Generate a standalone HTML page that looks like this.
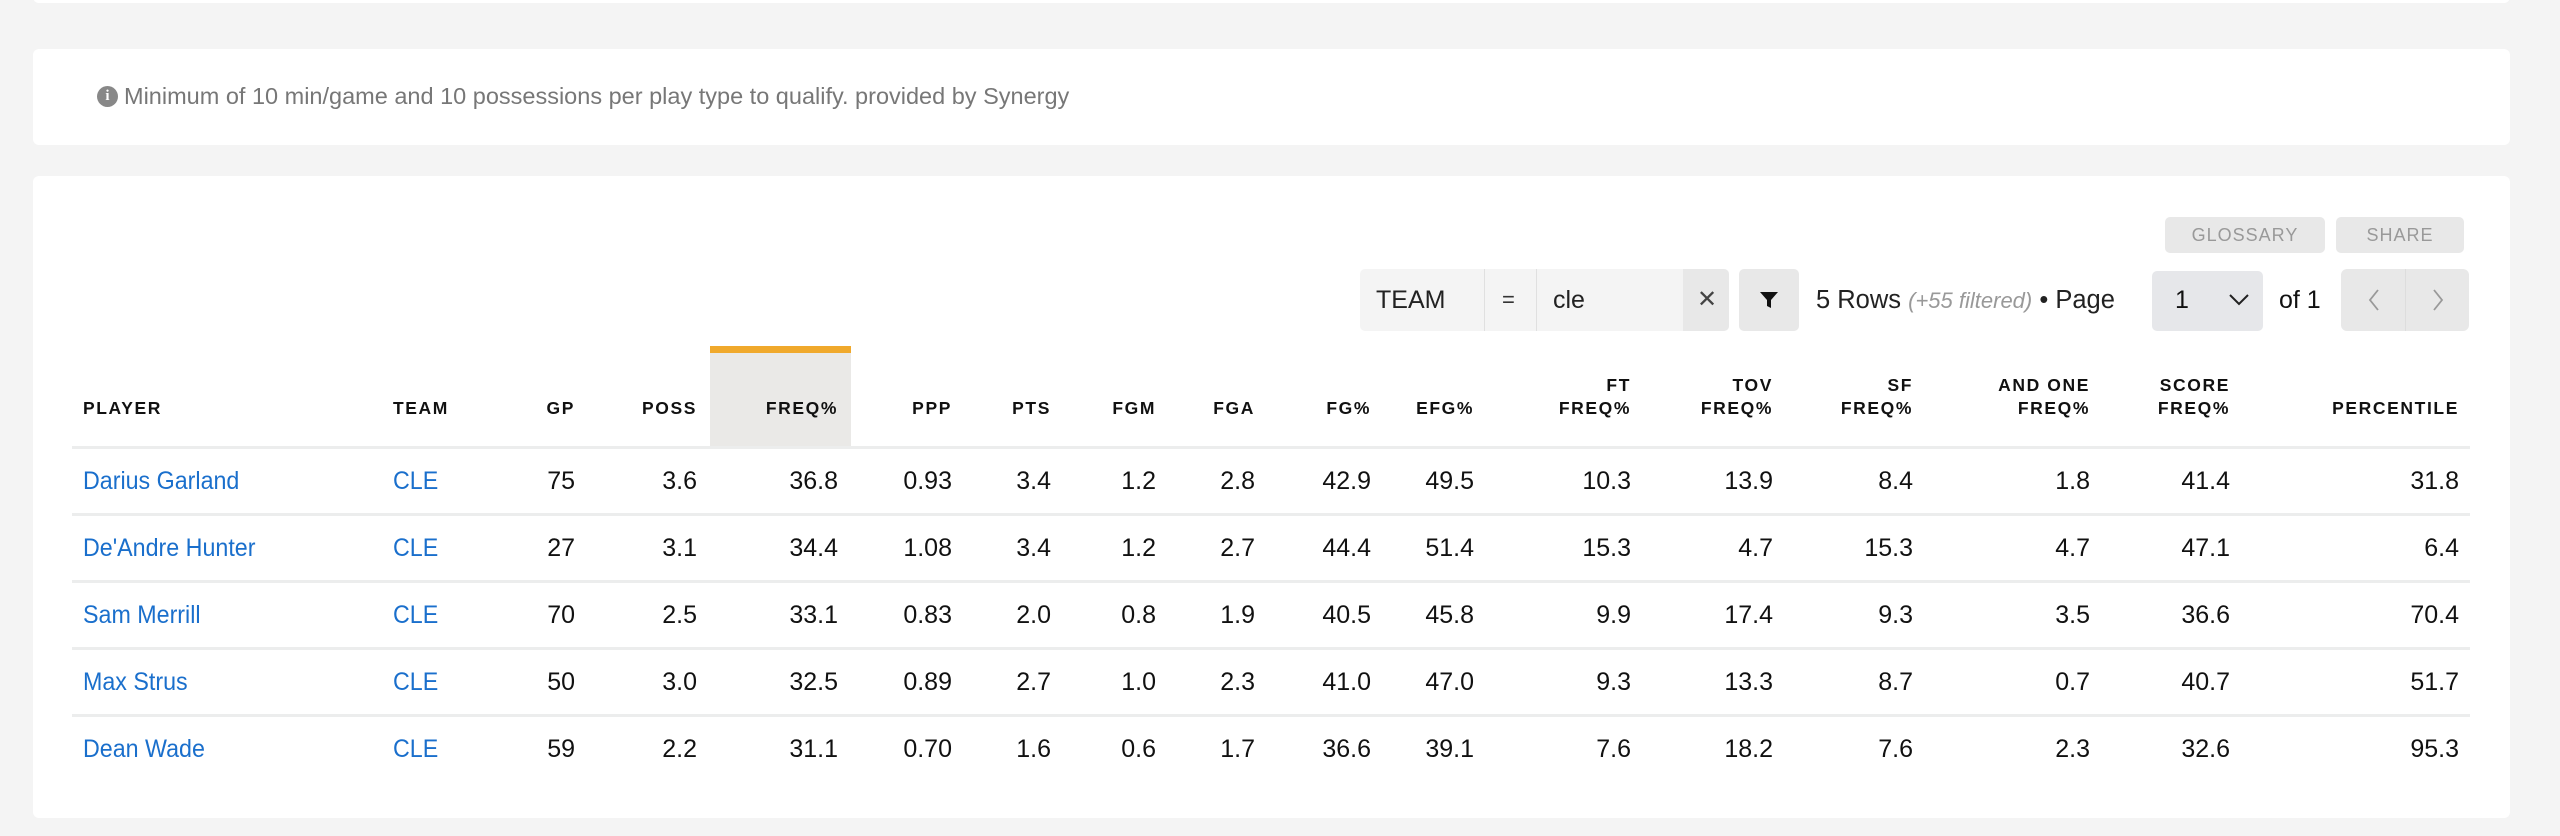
<!DOCTYPE html>
<html><head><meta charset="utf-8">
<style>
*{margin:0;padding:0;box-sizing:border-box}
body{width:2560px;height:836px;background:#f4f4f4;position:relative;overflow:hidden;font-family:"Liberation Sans",sans-serif;color:#111}
.card{position:absolute;background:#fff;border-radius:6px}
.info{position:absolute;left:97px;top:83px;font-size:23.5px;color:#777;display:flex;align-items:center}
.info i{display:inline-block;width:21px;height:21px;border-radius:50%;background:#888;color:#fff;font-style:normal;font-weight:bold;font-size:15px;text-align:center;line-height:21px;margin-right:6px;font-family:"Liberation Serif",serif}
.btn{position:absolute;background:#e8e8e8;border-radius:5px;color:#999;font-size:18px;letter-spacing:1px;text-align:center;line-height:36px;top:217px;height:36px}
.th{position:absolute;font-weight:bold;font-size:17.5px;letter-spacing:1.6px;text-align:right;line-height:23px;color:#111}
.td{position:absolute;font-size:25px;text-align:right;white-space:nowrap;color:#111}
.nm{transform:scaleX(.93);transform-origin:left center}
.hl{position:absolute;left:710px;top:346px;width:141px;height:101px;background:#eae9e7;border-top:7px solid #f0a92c}
.line{position:absolute;left:72px;width:2398px;height:3px;background:#eceded}
a{color:#1a6fcc;text-decoration:none}
</style></head><body>
<div class="card" style="left:33px;top:-10px;width:2477px;height:13px"></div>
<div class="card" style="left:33px;top:49px;width:2477px;height:96px"></div>
<div class="info"><i>i</i>Minimum of 10 min/game and 10 possessions per play type to qualify. provided by Synergy</div>
<div class="card" style="left:33px;top:176px;width:2477px;height:642px"></div>
<div class="btn" style="left:2165px;width:160px">GLOSSARY</div>
<div class="btn" style="left:2336px;width:128px">SHARE</div>
<div style="position:absolute;left:1360px;top:269px;width:369px;height:62px;background:#f4f4f4;border-radius:5px"></div>
<div style="position:absolute;left:1683px;top:269px;width:46px;height:62px;background:#e8e8e8;border-radius:0 5px 5px 0"></div>
<div style="position:absolute;left:1484px;top:269px;width:1px;height:62px;background:#e0e0e0"></div>
<div style="position:absolute;left:1536px;top:269px;width:1px;height:62px;background:#e0e0e0"></div>
<div style="position:absolute;left:1376px;top:269px;line-height:62px;font-size:25px;color:#222">TEAM</div>
<div style="position:absolute;left:1502px;top:269px;line-height:62px;font-size:22px;color:#333">=</div>
<div style="position:absolute;left:1553px;top:269px;line-height:62px;font-size:25px;color:#222">cle</div>
<div style="position:absolute;left:1697px;top:269px;line-height:62px;font-size:24px;color:#444">✕</div>
<div style="position:absolute;left:1739px;top:269px;width:60px;height:62px;background:#e8e8e8;border-radius:5px"></div>
<svg style="position:absolute;left:1759px;top:290px" width="20" height="20"><path d="M1 2h18l-7 8v8l-4-2v-6z" fill="#111"/></svg>
<div style="position:absolute;left:1816px;top:269px;line-height:62px;font-size:25.5px;color:#222">5 Rows <span style="color:#999;font-style:italic;font-size:22px">(+55 filtered)</span> • Page</div>
<div style="position:absolute;left:2152px;top:271px;width:111px;height:60px;background:#e6e7ea;border-radius:5px"></div>
<div style="position:absolute;left:2175px;top:269px;line-height:62px;font-size:25px">1</div>
<svg style="position:absolute;left:2228px;top:293px" width="22" height="14"><path d="M2 2l9 9 9-9" stroke="#222" stroke-width="2" fill="none"/></svg>
<div style="position:absolute;left:2279px;top:269px;line-height:62px;font-size:25px">of 1</div>
<div style="position:absolute;left:2341px;top:269px;width:128px;height:62px;background:#e8e8e8;border-radius:6px"></div>
<div style="position:absolute;left:2405px;top:269px;width:1px;height:62px;background:#ddd"></div>
<svg style="position:absolute;left:2366px;top:288px" width="80" height="24"><path d="M12 2L4 12l8 10M68 2l8 10-8 10" stroke="#999" stroke-width="1.8" fill="none"/></svg>

<div class="hl"></div>
<div class="th" style="left:83px;top:397px;text-align:left">PLAYER</div>
<div class="th" style="left:393px;top:397px;text-align:left">TEAM</div>
<div class="th" style="right:1985px;top:397px">GP</div>
<div class="th" style="right:1863px;top:397px">POSS</div>
<div class="th" style="right:1722px;top:397px">FREQ%</div>
<div class="th" style="right:1608px;top:397px">PPP</div>
<div class="th" style="right:1509px;top:397px">PTS</div>
<div class="th" style="right:1404px;top:397px">FGM</div>
<div class="th" style="right:1305px;top:397px">FGA</div>
<div class="th" style="right:1189px;top:397px">FG%</div>
<div class="th" style="right:1086px;top:397px">EFG%</div>
<div class="th" style="right:929px;top:374px">FT<br>FREQ%</div>
<div class="th" style="right:787px;top:374px">TOV<br>FREQ%</div>
<div class="th" style="right:647px;top:374px">SF<br>FREQ%</div>
<div class="th" style="right:470px;top:374px">AND ONE<br>FREQ%</div>
<div class="th" style="right:330px;top:374px">SCORE<br>FREQ%</div>
<div class="th" style="right:101px;top:397px">PERCENTILE</div>
<div class="line" style="top:446px"></div>
<div class="line" style="top:513px"></div>
<div class="line" style="top:580px"></div>
<div class="line" style="top:647px"></div>
<div class="line" style="top:714px"></div>

<div style="position:absolute;left:0;top:467px;width:2560px;height:34px">
<div class="td nm" style="left:83px"><a>Darius Garland</a></div><div class="td nm" style="left:393px"><a>CLE</a></div>
<div class="td" style="right:1985px">75</div><div class="td" style="right:1863px">3.6</div><div class="td" style="right:1722px">36.8</div><div class="td" style="right:1608px">0.93</div><div class="td" style="right:1509px">3.4</div><div class="td" style="right:1404px">1.2</div><div class="td" style="right:1305px">2.8</div><div class="td" style="right:1189px">42.9</div><div class="td" style="right:1086px">49.5</div><div class="td" style="right:929px">10.3</div><div class="td" style="right:787px">13.9</div><div class="td" style="right:647px">8.4</div><div class="td" style="right:470px">1.8</div><div class="td" style="right:330px">41.4</div><div class="td" style="right:101px">31.8</div></div>
<div style="position:absolute;left:0;top:534px;width:2560px;height:34px">
<div class="td nm" style="left:83px"><a>De'Andre Hunter</a></div><div class="td nm" style="left:393px"><a>CLE</a></div>
<div class="td" style="right:1985px">27</div><div class="td" style="right:1863px">3.1</div><div class="td" style="right:1722px">34.4</div><div class="td" style="right:1608px">1.08</div><div class="td" style="right:1509px">3.4</div><div class="td" style="right:1404px">1.2</div><div class="td" style="right:1305px">2.7</div><div class="td" style="right:1189px">44.4</div><div class="td" style="right:1086px">51.4</div><div class="td" style="right:929px">15.3</div><div class="td" style="right:787px">4.7</div><div class="td" style="right:647px">15.3</div><div class="td" style="right:470px">4.7</div><div class="td" style="right:330px">47.1</div><div class="td" style="right:101px">6.4</div></div>
<div style="position:absolute;left:0;top:601px;width:2560px;height:34px">
<div class="td nm" style="left:83px"><a>Sam Merrill</a></div><div class="td nm" style="left:393px"><a>CLE</a></div>
<div class="td" style="right:1985px">70</div><div class="td" style="right:1863px">2.5</div><div class="td" style="right:1722px">33.1</div><div class="td" style="right:1608px">0.83</div><div class="td" style="right:1509px">2.0</div><div class="td" style="right:1404px">0.8</div><div class="td" style="right:1305px">1.9</div><div class="td" style="right:1189px">40.5</div><div class="td" style="right:1086px">45.8</div><div class="td" style="right:929px">9.9</div><div class="td" style="right:787px">17.4</div><div class="td" style="right:647px">9.3</div><div class="td" style="right:470px">3.5</div><div class="td" style="right:330px">36.6</div><div class="td" style="right:101px">70.4</div></div>
<div style="position:absolute;left:0;top:668px;width:2560px;height:34px">
<div class="td nm" style="left:83px"><a>Max Strus</a></div><div class="td nm" style="left:393px"><a>CLE</a></div>
<div class="td" style="right:1985px">50</div><div class="td" style="right:1863px">3.0</div><div class="td" style="right:1722px">32.5</div><div class="td" style="right:1608px">0.89</div><div class="td" style="right:1509px">2.7</div><div class="td" style="right:1404px">1.0</div><div class="td" style="right:1305px">2.3</div><div class="td" style="right:1189px">41.0</div><div class="td" style="right:1086px">47.0</div><div class="td" style="right:929px">9.3</div><div class="td" style="right:787px">13.3</div><div class="td" style="right:647px">8.7</div><div class="td" style="right:470px">0.7</div><div class="td" style="right:330px">40.7</div><div class="td" style="right:101px">51.7</div></div>
<div style="position:absolute;left:0;top:735px;width:2560px;height:34px">
<div class="td nm" style="left:83px"><a>Dean Wade</a></div><div class="td nm" style="left:393px"><a>CLE</a></div>
<div class="td" style="right:1985px">59</div><div class="td" style="right:1863px">2.2</div><div class="td" style="right:1722px">31.1</div><div class="td" style="right:1608px">0.70</div><div class="td" style="right:1509px">1.6</div><div class="td" style="right:1404px">0.6</div><div class="td" style="right:1305px">1.7</div><div class="td" style="right:1189px">36.6</div><div class="td" style="right:1086px">39.1</div><div class="td" style="right:929px">7.6</div><div class="td" style="right:787px">18.2</div><div class="td" style="right:647px">7.6</div><div class="td" style="right:470px">2.3</div><div class="td" style="right:330px">32.6</div><div class="td" style="right:101px">95.3</div></div>
</body></html>
